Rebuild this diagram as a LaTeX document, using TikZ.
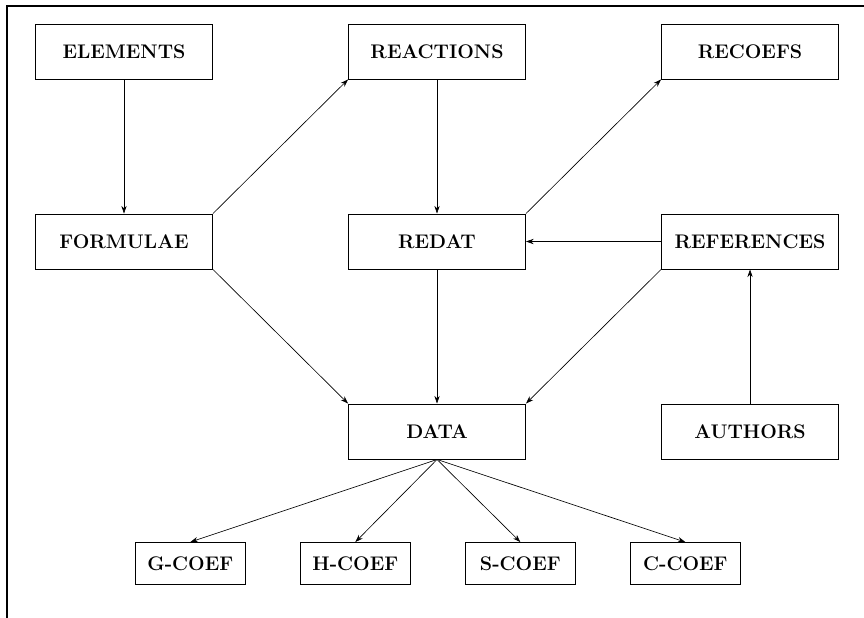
\documentclass[tikz,border=0pt]{standalone}
\usepackage{amsmath,amssymb}
\usetikzlibrary{arrows.meta,positioning}

\tikzset{
  table/.style={draw, line width=0.8pt, rectangle, minimum width=5.31cm, minimum height=1.65cm,
    font=\fontsize{16.8}{18}\selectfont\bfseries},
  coef/.style={table, minimum width=3.3cm, minimum height=1.26cm}
}

\begin{document}
\begin{tikzpicture}[x=0.03cm, y=-0.03cm, node distance=5.7cm and 9.39cm, on grid, >={Stealth[length=6.5pt,width=4.5pt]}, line width=0.55pt]
\useasboundingbox (0,0) rectangle (864,618);
\draw[line width=2.4pt] (7,620) -- (7,6) -- (866,6);

\node[table] (elements) at (124,51.5) {ELEMENTS};
\node[table] (reactions) [right=of elements] {REACTIONS};
\node[table] (recoefs) [right=of reactions] {RECOEFS};
\node[table] (formulae) [below=of elements] {FORMULAE};
\node[table] (redat) [below=of reactions] {REDAT};
\node[table] (references) [below=of recoefs] {REFERENCES};
\node[table] (data) [below=of redat] {DATA};
\node[table] (authors) [below=of references] {AUTHORS};

% coefficient tables under DATA
\node[coef] (gcoef) [below left=3.96cm and 7.4cm of data] {G-COEF};
\node[coef] (hcoef) [below left=3.96cm and 2.45cm of data] {H-COEF};
\node[coef] (scoef) [below right=3.96cm and 2.5cm of data] {S-COEF};
\node[coef] (ccoef) [below right=3.96cm and 7.45cm of data] {C-COEF};

\path[->] (elements) edge (formulae)
          (formulae.north east) edge (reactions.south west)
          (reactions) edge (redat)
          (redat.north east) edge (recoefs.south west)
          (references) edge (redat)
          (formulae.south east) edge (data.north west)
          (redat) edge (data)
          (references.south west) edge (data.north east)
          (authors) edge (references)
          (data.south) edge (gcoef.north) edge (hcoef.north)
                       edge (scoef.north) edge (ccoef.north);
\end{tikzpicture}
\end{document}
